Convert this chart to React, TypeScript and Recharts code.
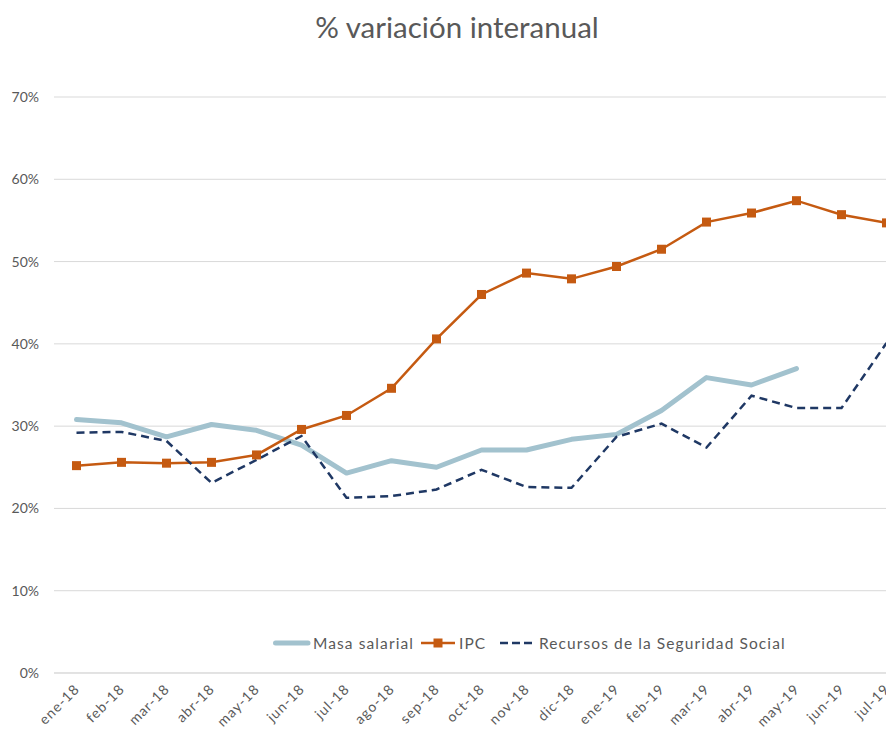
import React from 'react';
import { LineChart, Line, XAxis, YAxis, CartesianGrid, Legend } from 'recharts';

const months = ['ene-18','feb-18','mar-18','abr-18','may-18','jun-18','jul-18','ago-18','sep-18','oct-18','nov-18','dic-18','ene-19','feb-19','mar-19','abr-19','may-19','jun-19','jul-19'];
const masaSalarial: (number | null)[] = [30.8,30.4,28.7,30.2,29.5,27.7,24.3,25.8,25.0,27.1,27.1,28.4,29.0,31.9,35.9,35.0,37.0,null,null];
const ipc = [25.2,25.6,25.5,25.6,26.5,29.6,31.3,34.6,40.6,46.0,48.6,47.9,49.4,51.5,54.8,55.9,57.4,55.7,54.7];
const recursosSS = [29.2,29.3,28.2,23.1,25.9,28.8,21.3,21.5,22.3,24.7,22.6,22.5,28.7,30.3,27.4,33.7,32.2,32.2,40.1];
const yTicks = [0,10,20,30,40,50,60,70];

const data = months.map((m, i) => ({ month: m, masa: masaSalarial[i], ipc: ipc[i], ss: recursosSS[i] }));

const FONT = 'Lato, "Open Sans", sans-serif';
const TEXT = '#595959';
const C_MASA = '#A2C2CE';
const C_IPC = '#C55A11';
const C_SS = '#1F3864';

const SquareDot = (props: any) => {
  const { cx, cy } = props;
  if (cx == null || cy == null) return null;
  return <rect key={props.key} x={cx - 4.5} y={cy - 4.5} width={9} height={9} fill={C_IPC} />;
};

const renderXTick = (props: any) => {
  const { x, y, payload } = props;
  return (
    <g transform={`translate(${x + 4},${y + 17})`}>
      <text x={0} y={0} textAnchor="end" transform="rotate(-45)" fontSize={14} letterSpacing={1} fill={TEXT} fontFamily={FONT}>{payload.value}</text>
    </g>
  );
};

const legendText: React.CSSProperties = { position: 'absolute', top: 0, lineHeight: '20px', fontFamily: FONT, fontSize: 15.5, letterSpacing: 1.1, color: TEXT, whiteSpace: 'nowrap' };

const LegendContent = () => (
  <div style={{ position: 'relative', width: 886, height: 20 }}>
    <svg width={40} height={20} style={{ position: 'absolute', left: 263, top: 0 }}>
      <line x1={4.5} y1={10} x2={37} y2={10} stroke={C_MASA} strokeWidth={5} strokeLinecap="round" />
    </svg>
    <span style={{ ...legendText, left: 305 }}>Masa salarial</span>
    <svg width={36} height={20} style={{ position: 'absolute', left: 413, top: 0 }}>
      <line x1={0} y1={10} x2={34} y2={10} stroke={C_IPC} strokeWidth={2.5} />
      <rect x={12.5} y={5.5} width={9} height={9} fill={C_IPC} />
    </svg>
    <span style={{ ...legendText, left: 451 }}>IPC</span>
    <svg width={34} height={20} style={{ position: 'absolute', left: 492, top: 0 }}>
      <line x1={0} y1={10} x2={32} y2={10} stroke={C_SS} strokeWidth={2.5} strokeDasharray="8 4" />
    </svg>
    <span style={{ ...legendText, left: 531 }}>Recursos de la Seguridad Social</span>
  </div>
);

export default function App() {
  return (
    <div style={{ width: 886, height: 721, overflow: 'hidden', position: 'relative', fontFamily: FONT }}>
      <LineChart width={910} height={721} data={data} margin={{ top: 89, right: 9, left: 0, bottom: 0 }}>
        <text x={449} y={30} textAnchor="middle" fontSize={29.5} fill={TEXT} fontFamily={FONT}>% variación interanual</text>
        <CartesianGrid vertical={false} stroke="#D9D9D9" strokeWidth={1} />
        <XAxis dataKey="month" height={56} padding={{ left: 22.5, right: 22.5 }} tickLine={false} axisLine={{ stroke: '#D9D9D9' }} tickSize={0} tickMargin={0} interval={0} tick={renderXTick} />
        <YAxis width={46} domain={[0, 70]} ticks={yTicks} tickFormatter={(v: number) => `${v}%`} axisLine={false} tickLine={false} tickSize={0} tickMargin={15} tick={{ fontSize: 14, fill: TEXT, fontFamily: FONT }} />
        <Legend verticalAlign="middle" align="center" layout="horizontal" wrapperStyle={{ top: 625, left: 0, width: 886, height: 20 }} content={<LegendContent />} />
        <Line dataKey="masa" stroke={C_MASA} strokeWidth={5} dot={false} isAnimationActive={false} connectNulls={false} strokeLinecap="round" strokeLinejoin="round" />
        <Line dataKey="ipc" stroke={C_IPC} strokeWidth={2.5} dot={SquareDot} activeDot={false} isAnimationActive={false} />
        <Line dataKey="ss" stroke={C_SS} strokeWidth={2.5} strokeDasharray="8 5" dot={false} isAnimationActive={false} />
      </LineChart>
    </div>
  );
}
